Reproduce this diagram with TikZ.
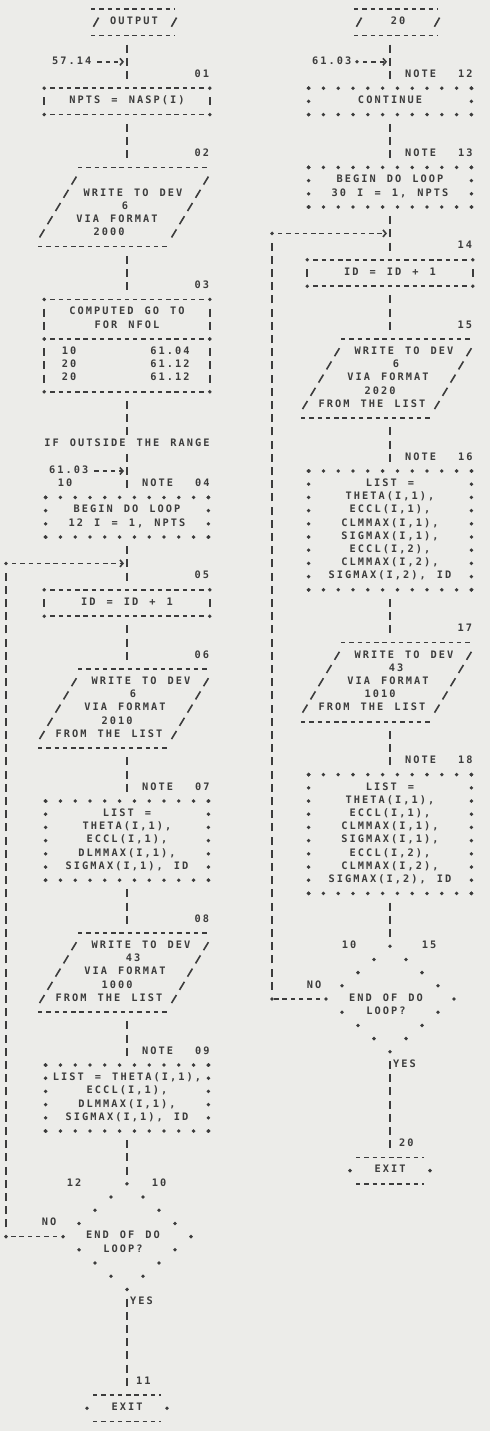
\documentclass[tikz,border=0pt]{standalone}
\usepackage{fontspec}
\usepackage{tikz}
\usetikzlibrary{arrows.meta,calc,shapes.geometric}
\newfontfamily\prtfont[LetterSpace=20,WordSpace=1.34]{DejaVu Sans Mono}
\definecolor{ink}{HTML}{3C3C3C}
\definecolor{paper}{HTML}{ECECE9}
\newcommand\rowstrut{\rule[-3pt]{0pt}{10.5pt}}
\newcommand\procframe[1]{%
  \draw[hdash] (#1.north west) -- (#1.north east);
  \draw[hdash] (#1.south west) -- (#1.south east);
  \draw[vbar] (#1.north west) -- (#1.south west);
  \draw[vbar] (#1.north east) -- (#1.south east);
  \foreach \cn in {north west,north east,south west,south east} \fill[ink] (#1.\cn) circle (1.9pt);}
\newcommand\noteframe[1]{%
  \draw[hdots] (#1.north west) -- (#1.north east);
  \draw[hdots] (#1.south west) -- (#1.south east);
  \draw[vdots] (#1.north west) -- (#1.south west);
  \draw[vdots] (#1.north east) -- (#1.south east);
  \foreach \cn in {north west,north east,south west,south east} \fill[ink] (#1.\cn) circle (1.9pt);}
\newcommand\ioframe[1]{%
  \draw[hrule] ($(#1.north)+(-49,0)$) -- ($(#1.north)+(83,0)$);
  \draw[hrule] ($(#1.south)+(-89,0)$) -- ($(#1.south)+(43,0)$);
  \draw[slashline] ($(#1.north)+(-49,6.6)$) -- ($(#1.south)+(-89,-6.6)$);
  \draw[slashline] ($(#1.north)+(83,6.6)$) -- ($(#1.south)+(43,-6.6)$);}
\newcommand\iotext[2]{%
  \foreach \k/\t in {#2} \node[txt] (#1t\k) at ($(#1.north)+({14-8*(\k-1)},{13.2*\k})$) {\t};}
\newcommand\exitframe[1]{%
  \draw[hrule] (#1.north west) -- (#1.north east);
  \draw[hrule] (#1.south west) -- (#1.south east);
  \fill[ink] ($(#1.west)+(-6,0)$) circle (1.9pt) ($(#1.east)+(6,0)$) circle (1.9pt);}
\newcommand\slashmark[1]{\draw[ink,line width=1.6pt] ($#1+(-2.6,4.6)$) -- ($#1+(2.6,-4.6)$);}
\def\XL{127}
\def\XR{390}

\begin{document}
\begin{tikzpicture}[x=1pt,y=-1pt,
  declare function={ry(\r)=9+(\r-1)*13.2;},
  txt/.style={font=\prtfont\bfseries\fontsize{10.3}{13.2}\selectfont, text=ink, inner sep=0pt, outer sep=0pt, align=center,
    execute at begin node=\rowstrut, execute at end node=\rowstrut},
  procbox/.style={inner sep=0pt, outer sep=0pt, minimum width=165.6pt},
  notebox/.style={inner sep=0pt, outer sep=0pt, minimum width=162.8pt},
  iobox/.style={inner sep=0pt, outer sep=0pt, minimum width=20pt, minimum height=79.2pt},
  decbox/.style={diamond, inner sep=0pt, outer sep=0pt, minimum width=128pt, minimum height=105.6pt},
  hdash/.style={ink, line width=1.6pt, dash pattern=on 4.4pt off 3.88pt, dash phase=4.5pt, shorten <=2.3pt, shorten >=2.3pt},
  hrule/.style={ink, line width=1.6pt, dash pattern=on 4.4pt off 3.88pt},
  harrow/.style={ink, line width=1.6pt, dash pattern=on 4.4pt off 3.88pt, dash phase=4.5pt, shorten <=2.3pt, shorten >=3pt,
    -{Straight Barb[length=3pt,width=7pt]}},
  vbar/.style={ink, line width=1.6pt, dash pattern=on 8pt off 5.2pt, dash phase=10.6pt, shorten <=6.6pt, shorten >=6.6pt},
  slashline/.style={ink, line width=1.6pt, dash pattern=on 9.4pt off 6.04pt, dash phase=12.42pt},
  hdots/.style={ink, line width=3.8pt, line cap=round, dash pattern=on 0pt off 14.8pt},
  vdots/.style={ink, line width=3.8pt, line cap=round, dash pattern=on 0pt off 13.2pt},
  ddots/.style={ink, line width=3.8pt, line cap=round, dash pattern=on 0pt off 20.74pt}]
\fill[paper] (0,0) rectangle (490,1431);
\useasboundingbox (0,0) rectangle (490,1431);

% left column
\node[txt,minimum height=26.4pt] (out) at (\XL,{ry(2)}) {\hspace*{14pt}OUTPUT};
\draw[hrule] ($(out.north)+(-36,0)$) -- ($(out.north)+(48,0)$);
\draw[hrule] ($(out.south)+(-36,0)$) -- ($(out.south)+(48,0)$);
\slashmark{(out.center)+(-31,0)}
\slashmark{(out.center)+(47,0)}
\node[txt,anchor=west] (r57) at (\XL-75,{ry(5)}) {57.14};
\coordinate (jn01) at (\XL,{ry(5)});
\draw[harrow] (r57.east) -- (jn01);
\node[procbox,txt,minimum height=26.4pt] (c01) at (\XL,{ry(8)}) {NPTS = NASP(I)};
\procframe{c01}
\node[iobox] (c02) at (\XL,{ry(16)}) {};
\ioframe{c02}
\iotext{c02}{2/WRITE TO DEV,3/6,4/VIA FORMAT,5/2000}
\node[procbox,txt,minimum height=39.6pt] (c03a) at (\XL,{ry(24.5)}) {COMPUTED GO TO\\FOR NFOL};
\node[procbox,minimum height=52.8pt] (c03b) at (\XL,{ry(28)}) {};
\procframe{c03a}
\procframe{c03b}
\node[txt] (c03l) at ($(c03b)+(-58,0)$) {10\\20\\20};
\node[txt] (c03r) at ($(c03b)+(43,0)$) {61.04\\61.12\\61.12};
\node[txt] (ifr) at (\XL,{ry(34)}) {IF OUTSIDE THE RANGE};
\node[txt,anchor=west] (r04) at (\XL-78,{ry(36)}) {61.03};
\coordinate (jn04) at (\XL,{ry(36)});
\draw[harrow] (r04.east) -- (jn04);
\node[txt] (s04) at (\XL-62,{ry(37)}) {10};
\node[notebox,txt,minimum height=39.6pt] (n04) at (\XL,{ry(39.5)}) {BEGIN DO LOOP\\12 I = 1, NPTS};
\noteframe{n04}
\node[procbox,txt,minimum height=26.4pt] (c05) at (\XL,{ry(46)}) {ID = ID + 1};
\procframe{c05}
\node[iobox] (c06) at (\XL,{ry(54)}) {};
\ioframe{c06}
\iotext{c06}{1/WRITE TO DEV,2/6,3/VIA FORMAT,4/2010,5/FROM THE LIST}
\node[notebox,txt,minimum height=79.2pt] (n07) at (\XL,{ry(64)}) {LIST =\\THETA(I,1),\\ECCL(I,1),\\DLMMAX(I,1),\\SIGMAX(I,1), ID};
\noteframe{n07}
\node[iobox] (c08) at (\XL,{ry(74)}) {};
\ioframe{c08}
\iotext{c08}{1/WRITE TO DEV,2/43,3/VIA FORMAT,4/1000,5/FROM THE LIST}
\node[notebox,txt,minimum height=66pt] (n09) at (\XL,{ry(83.5)}) {LIST = THETA(I,1),\\ECCL(I,1),\\DLMMAX(I,1),\\SIGMAX(I,1), ID};
\noteframe{n09}
\node[decbox] (d1) at (\XL,{ry(94)}) {};
\draw[ddots] (d1.north) -- (d1.east) -- (d1.south) -- (d1.west) -- cycle;
\node[txt] (d1t) at (\XL-4,{ry(94.5)}) {END OF DO\\LOOP?};
\node[txt] (d1a) at (\XL-53,{ry(90)}) {12};
\node[txt] (d1b) at (\XL+32,{ry(90)}) {10};
\node[txt] (d1n) at (\XL-78,{ry(93)}) {NO};
\node[txt,anchor=west] (d1y) at (\XL+3,{ry(99)}) {YES};
\node[txt,minimum width=68pt,minimum height=26.4pt] (ex1) at (\XL,{ry(107)}) {EXIT};
\exitframe{ex1}
\coordinate (lpa) at (6,{ry(43)});
\coordinate (lpb) at (6,{ry(94)});
\coordinate (jn05) at (\XL,{ry(43)});
\draw[hdash] (d1.west) -- (lpb);
\draw[vbar] (lpb) -- (lpa);
\draw[harrow] (lpa) -- (jn05);
\fill[ink] (lpa) circle (1.9pt) (lpb) circle (1.9pt);
\foreach \a/\b in {out/c01,c01/c02,c02/c03a,n04/c05,c05/c06,c06/n07,n07/c08,c08/n09,n09/d1,d1/ex1}
  \draw[vbar] (\a.south) -- (\b.north);
\draw[vbar] (c03b.south) -- (ifr.center);
\draw[vbar] (ifr.center) -- (n04.north);
\foreach \r/\t in {6/01,12/02,22/03,44/05,50/06,70/08}
  \node[txt,anchor=east] (lbl\t) at (\XL+82,{ry(\r)}) {\t};
\foreach \r/\t in {37/04,60/07,80/09}
  \node[txt,anchor=west] (note\t) at (\XL+15,{ry(\r)}) {NOTE\ \ \t};
\node[txt,anchor=west] (lbl11) at (\XL+9,{ry(105)}) {11};

% right column
\node[txt,minimum height=26.4pt] (ent) at (\XR,{ry(2)}) {\hspace*{16pt}20};
\draw[hrule] ($(ent.north)+(-36,0)$) -- ($(ent.north)+(48,0)$);
\draw[hrule] ($(ent.south)+(-36,0)$) -- ($(ent.south)+(48,0)$);
\slashmark{(ent.center)+(-31,0)}
\slashmark{(ent.center)+(47,0)}
\node[txt,anchor=west] (r12) at (\XR-78,{ry(5)}) {61.03};
\coordinate (r12d) at (\XR-33,{ry(5)});
\coordinate (jn12) at (\XR,{ry(5)});
\fill[ink] (r12d) circle (1.9pt);
\draw[harrow] (r12d) -- (jn12);
\node[notebox,txt,minimum height=26.4pt] (n12) at (\XR,{ry(8)}) {CONTINUE};
\noteframe{n12}
\node[notebox,txt,minimum height=39.6pt] (n13) at (\XR,{ry(14.5)}) {BEGIN DO LOOP\\30 I = 1, NPTS};
\noteframe{n13}
\node[procbox,txt,minimum height=26.4pt] (c14) at (\XR,{ry(21)}) {ID = ID + 1};
\procframe{c14}
\node[iobox] (c15) at (\XR,{ry(29)}) {};
\ioframe{c15}
\iotext{c15}{1/WRITE TO DEV,2/6,3/VIA FORMAT,4/2020,5/FROM THE LIST}
\node[notebox,txt,minimum height=118.8pt] (n16) at (\XR,{ry(40.5)}) {LIST =\\THETA(I,1),\\ECCL(I,1),\\CLMMAX(I,1),\\SIGMAX(I,1),\\ECCL(I,2),\\CLMMAX(I,2),\\SIGMAX(I,2), ID};
\noteframe{n16}
\node[iobox] (c17) at (\XR,{ry(52)}) {};
\ioframe{c17}
\iotext{c17}{1/WRITE TO DEV,2/43,3/VIA FORMAT,4/1010,5/FROM THE LIST}
\node[notebox,txt,minimum height=118.8pt] (n18) at (\XR,{ry(63.5)}) {LIST =\\THETA(I,1),\\ECCL(I,1),\\CLMMAX(I,1),\\SIGMAX(I,1),\\ECCL(I,2),\\CLMMAX(I,2),\\SIGMAX(I,2), ID};
\noteframe{n18}
\node[decbox] (d2) at (\XR,{ry(76)}) {};
\draw[ddots] (d2.north) -- (d2.east) -- (d2.south) -- (d2.west) -- cycle;
\node[txt] (d2t) at (\XR-4,{ry(76.5)}) {END OF DO\\LOOP?};
\node[txt] (d2a) at (\XR-41,{ry(72)}) {10};
\node[txt] (d2b) at (\XR+39,{ry(72)}) {15};
\node[txt] (d2n) at (\XR-76,{ry(75)}) {NO};
\node[txt,anchor=west] (d2y) at (\XR+3,{ry(81)}) {YES};
\node[txt,minimum width=68pt,minimum height=26.4pt] (ex2) at (\XR,{ry(89)}) {EXIT};
\exitframe{ex2}
\coordinate (lpc) at (272,{ry(18)});
\coordinate (lpd) at (272,{ry(76)});
\coordinate (jn14) at (\XR,{ry(18)});
\draw[hdash] (d2.west) -- (lpd);
\draw[vbar] (lpd) -- (lpc);
\draw[harrow] (lpc) -- (jn14);
\fill[ink] (lpc) circle (1.9pt) (lpd) circle (1.9pt);
\foreach \a/\b in {ent/n12,n12/n13,n13/c14,c14/c15,c15/n16,n16/c17,c17/n18,n18/d2,d2/ex2}
  \draw[vbar] (\a.south) -- (\b.north);
\foreach \r/\t in {19/14,25/15,48/17}
  \node[txt,anchor=east] (lbl\t) at (\XR+82,{ry(\r)}) {\t};
\foreach \r/\t in {6/12,12/13,35/16,58/18}
  \node[txt,anchor=west] (note\t) at (\XR+15,{ry(\r)}) {NOTE\ \ \t};
\node[txt,anchor=west] (lbl20) at (\XR+9,{ry(87)}) {20};
\end{tikzpicture}
\end{document}
